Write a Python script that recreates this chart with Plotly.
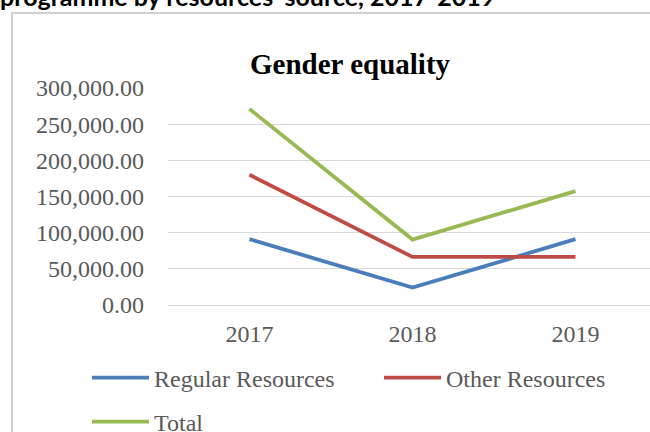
import plotly.graph_objects as go

years = ["2017", "2018", "2019"]
regular = [91000, 24000, 91000]
other = [180000, 66500, 66500]
total = [271000, 90500, 157500]
series_names = ["Regular Resources", "Other Resources", "Total"]
y_ticks = [0, 50000, 100000, 150000, 200000, 250000, 300000]
y_tick_labels = [f"{v:,.2f}" for v in y_ticks]
chart_title = "Gender equality"
page_heading = "programme by resources' source, 2017-2019"

colors = ["#4A7EBB", "#BE4B48", "#98B954"]
SERIF = "Liberation Serif"

fig = go.Figure()
for name, vals, col, lg in zip(series_names, [regular, other, total], colors,
                               ["legend", "legend2", "legend3"]):
    fig.add_trace(go.Scatter(x=years, y=vals, name=name, mode="lines",
                             line=dict(color=col, width=3.8), legend=lg))

W, H = 650, 432
L, R, T, B = 168, 0, 88, 127
pw, ph = W - L - R, H - T - B

def px_x(px):
    return (px - L) / pw

def px_y(py):
    return (H - B - py) / ph

legend_font = dict(family=SERIF, size=24, color="#595959")

def leg(xpx, ypx):
    return dict(orientation="h", x=px_x(xpx), y=px_y(ypx), xanchor="left", yanchor="middle",
                itemwidth=57, font=legend_font, bgcolor="rgba(0,0,0,0)")

fig.update_layout(
    width=W, height=H,
    margin=dict(l=L, r=R, t=T, b=B, autoexpand=False),
    paper_bgcolor="white", plot_bgcolor="white",
    font=dict(family=SERIF, color="#595959", size=24),
    showlegend=True,
    legend=leg(87, 378),
    legend2=leg(379, 378),
    legend3=leg(87, 422),
    xaxis=dict(type="category", range=[-0.5, -0.5 + pw / 163.0], showgrid=False,
               showline=False, zeroline=False, ticks="", ticklabelstandoff=12,
               tickfont=dict(family=SERIF, size=24, color="#595959")),
    yaxis=dict(range=[0, 300000], tickvals=y_ticks, ticktext=y_tick_labels,
               showgrid=True, gridcolor="#D9D9D9", gridwidth=1.3,
               zeroline=True, zerolinecolor="#D9D9D9", zerolinewidth=1.3,
               showline=False, ticks="", ticklabelstandoff=23,
               tickfont=dict(family=SERIF, size=24, color="#595959")),
    annotations=[
        dict(text="<b>" + chart_title + "</b>", xref="paper", yref="paper",
             x=px_x(350), y=px_y(64), xanchor="center", yanchor="middle", showarrow=False,
             font=dict(family=SERIF, size=29, color="#000000")),
        dict(text="<b>" + page_heading + "</b>", xref="paper", yref="paper",
             x=px_x(-2), y=px_y(13), xanchor="left", yanchor="bottom", showarrow=False,
             font=dict(family="Lato", size=25, color="#000000")),
    ],
    shapes=[
        dict(type="rect", xref="paper", yref="paper", x0=px_x(12), x1=px_x(700),
             y0=px_y(480), y1=px_y(13), line=dict(color="#D0D0D0", width=2),
             fillcolor="rgba(0,0,0,0)", layer="below"),
    ],
)

fig.write_html("out.html", config={"displayModeBar": False},
               post_script="document.body.style.margin='0';document.body.style.overflow='hidden';")
